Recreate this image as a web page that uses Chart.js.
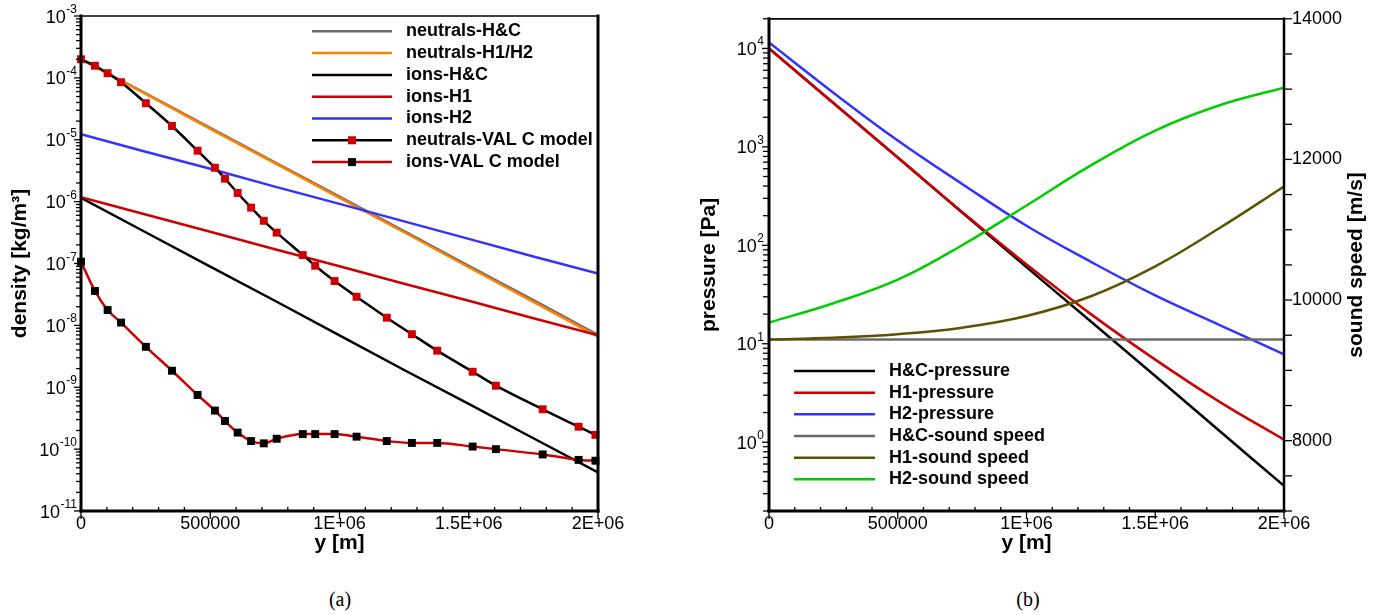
<!DOCTYPE html>
<html>
<head>
<meta charset="utf-8">
<script src="https://cdn.jsdelivr.net/npm/chart.js@4.4.1/dist/chart.umd.min.js"></script>
<style>
  html, body { margin: 0; padding: 0; background: #fff; }
  #page { position: relative; width: 1385px; height: 615px; overflow: hidden; }
  canvas { position: absolute; top: 0; }
  #chartA { left: 0; }
  #chartB { left: 690px; }
  .cap {
    position: absolute; top: 588px;
    font: 20px "Liberation Serif", "DejaVu Serif", serif;
    color: #000; transform: translateX(-50%);
  }
</style>
</head>
<body>
<div id="page">
  <canvas id="chartA" width="660" height="570"></canvas>
  <canvas id="chartB" width="695" height="570"></canvas>
  <div class="cap" style="left:340px">(a)</div>
  <div class="cap" style="left:1028px">(b)</div>
</div>
<script>
// ────────────────────────────────────────────────
// Data
// ────────────────────────────────────────────────

// shared height grid [m]
const heights = [0, 250000, 500000, 750000, 1000000, 1250000, 1500000, 1750000, 2000000];

// (a) density [kg/m^3]
const neutralsHC   = [2.0e-4, 5.6e-5, 1.55e-5, 4.3e-6, 1.2e-6, 3.35e-7, 9.2e-8, 2.55e-8, 7.0e-9];
const neutralsH1H2 = [2.0e-4, 5.5e-5, 1.5e-5, 4.2e-6, 1.15e-6, 3.2e-7, 8.7e-8, 2.4e-8, 6.6e-9];
const ionsHC       = [1.15e-6, 3.2e-7, 8.9e-8, 2.5e-8, 6.9e-9, 1.9e-9, 5.4e-10, 1.5e-10, 4.2e-11];
const ionsH1       = [1.18e-6, 6.2e-7, 3.25e-7, 1.7e-7, 9.0e-8, 4.7e-8, 2.5e-8, 1.3e-8, 6.9e-9];
const ionsH2       = [1.23e-5, 6.4e-6, 3.4e-6, 1.75e-6, 9.2e-7, 4.8e-7, 2.5e-7, 1.3e-7, 6.9e-8];

// VAL C model samples
const valHeights  = [0, 54000, 103000, 155000, 251000, 352000, 451000, 518000, 557000, 606000,
                     658000, 707000, 757000, 858000, 906000, 981000, 1066000, 1183000, 1280000,
                     1378000, 1515000, 1605000, 1786000, 1925000, 1990000];
const valNeutrals = [2.0e-4, 1.57e-4, 1.19e-4, 8.5e-5, 3.9e-5, 1.67e-5, 6.65e-6, 3.53e-6, 2.35e-6, 1.38e-6,
                     8.0e-7, 4.9e-7, 3.15e-7, 1.37e-7, 9.2e-8, 5.2e-8, 2.9e-8, 1.33e-8, 7.2e-9,
                     3.9e-9, 1.78e-9, 1.06e-9, 4.4e-10, 2.3e-10, 1.7e-10];
const valIons     = [1.07e-7, 3.6e-8, 1.77e-8, 1.11e-8, 4.5e-9, 1.85e-9, 7.5e-10, 4.2e-10, 2.85e-10, 1.85e-10,
                     1.35e-10, 1.24e-10, 1.47e-10, 1.75e-10, 1.75e-10, 1.75e-10, 1.59e-10, 1.35e-10, 1.26e-10,
                     1.26e-10, 1.1e-10, 1.0e-10, 8.2e-11, 6.7e-11, 6.5e-11];

// (b) pressure [Pa]
const pressureHC = [1.0e4, 2.79e3, 7.8e2, 2.15e2, 60, 16.8, 4.7, 1.3, 0.36];
const pressureH1 = [1.0e4, 2.79e3, 7.8e2, 2.18e2, 64, 20, 6.9, 2.57, 1.06];
const pressureH2 = [1.15e4, 3.55e3, 1.16e3, 4.2e2, 1.58e2, 68, 31, 15.5, 7.8];

// (b) sound speed [m/s]
const soundHC = [9440, 9440, 9440, 9440, 9440, 9440, 9440, 9440, 9440];
const soundH1 = [9440, 9464, 9514, 9607, 9773, 10054, 10480, 11025, 11615];
const soundH2 = [9680, 9955, 10290, 10780, 11345, 11915, 12410, 12770, 13020];

// tick labels
const xTickValues       = [0, 500000, 1000000, 1500000, 2000000];
const xTickLabels       = ['0', '500000', '1E+06', '1.5E+06', '2E+06'];
const densityExponents  = [-11, -10, -9, -8, -7, -6, -5, -4, -3];
const pressureExponents = [0, 1, 2, 3, 4];
const soundTickValues   = [8000, 10000, 12000, 14000];

// ────────────────────────────────────────────────
// Helpers
// ────────────────────────────────────────────────
const FAMILY = '"Liberation Sans", Arial, Helvetica, sans-serif';
const tickFont  = { family: FAMILY, size: 18 };
const titleFont = { family: FAMILY, size: 21, weight: 'bold' };

function isDecade(v) {
    const l = Math.log10(v);
    return Math.abs(l - Math.round(l)) < 1e-9;
}

function xLabel(v) {
    const i = xTickValues.indexOf(Math.round(v));
    return i >= 0 ? xTickLabels[i] : '';
}

// minor/major positions for a log axis: k * 10^n inside [min, max]
function logTicks(min, max) {
    const out = [];
    for (let n = Math.floor(Math.log10(min)); n <= Math.ceil(Math.log10(max)); n++) {
        for (let k = 1; k <= 9; k++) {
            const v = k * Math.pow(10, n);
            if (v >= min * (1 - 1e-9) && v <= max * (1 + 1e-9)) out.push({ value: v });
        }
    }
    return out;
}

function stepTicks(min, max, step) {
    const out = [];
    for (let v = min; v <= max + step * 1e-6; v += step) out.push({ value: Math.round(v) });
    return out;
}

const pts = (xs, ys) => xs.map((x, i) => ({ x, y: ys[i] }));

function lineDs(label, xs, ys, color, extra) {
    return Object.assign({
        label,
        data: pts(xs, ys),
        borderColor: color,
        backgroundColor: color,
        borderWidth: 2.5,
        pointRadius: 0,
        fill: false,
        tension: 0
    }, extra || {});
}

// frame, tick marks, 10^n labels, custom legend, rotated right title
function decor(cfg) {
    return {
        id: 'decor',
        afterDatasetsDraw(chart) {
            const ctx = chart.ctx;
            const a = chart.chartArea;
            ctx.save();
            ctx.strokeStyle = '#000';
            ctx.lineWidth = 1.3;
            cfg.ticks.forEach(spec => {
                const scale = chart.scales[spec.id];
                scale.ticks.forEach(t => {
                    const p = scale.getPixelForValue(t.value);
                    const major = spec.log ? isDecade(t.value)
                        : Math.abs(t.value / spec.majorEvery - Math.round(t.value / spec.majorEvery)) < 1e-6;
                    const len = major ? spec.majorLen : spec.minorLen;
                    const dir = (major || !spec.minorInward) ? 1 : -1;
                    ctx.beginPath();
                    if (spec.side === 'bottom') {
                        ctx.moveTo(p, a.bottom); ctx.lineTo(p, a.bottom + dir * len);
                    } else if (spec.side === 'left') {
                        ctx.moveTo(a.left, p); ctx.lineTo(a.left - dir * len, p);
                    } else {
                        ctx.moveTo(a.right, p); ctx.lineTo(a.right + dir * len, p);
                    }
                    ctx.stroke();
                });
            });
            const f = cfg.frame;
            const seg = (x1, y1, x2, y2, w) => {
                ctx.lineWidth = w;
                ctx.lineCap = 'square';
                ctx.beginPath(); ctx.moveTo(x1, y1); ctx.lineTo(x2, y2); ctx.stroke();
            };
            seg(a.left, a.top, a.right, a.top, f.top);
            seg(a.right, a.top, a.right, a.bottom, f.right);
            seg(a.left, a.bottom, a.right, a.bottom, f.bottom);
            seg(a.left, a.top, a.left, a.bottom, f.left);
            ctx.restore();
        },
        afterDraw(chart) {
            const ctx = chart.ctx;
            const a = chart.chartArea;
            ctx.save();

            // 10^n labels on the log axis
            const pl = cfg.powLabels;
            const scale = chart.scales[pl.id];
            ctx.fillStyle = '#000';
            ctx.textAlign = 'right';
            ctx.textBaseline = 'alphabetic';
            scale.ticks.forEach(t => {
                if (!isDecade(t.value)) return;
                const e = Math.round(Math.log10(t.value));
                if (!pl.exponents.includes(e)) return;
                const y = scale.getPixelForValue(t.value);
                const xr = a.left - pl.gap;
                const expText = String(e);
                ctx.font = '12px ' + FAMILY;
                const ew = ctx.measureText(expText).width;
                ctx.fillText(expText, xr, y - 3);
                ctx.font = '18px ' + FAMILY;
                ctx.fillText('10', xr - ew - 0.5, y + 6.5);
            });

            // legend
            const lg = cfg.legend;
            chart.data.datasets.forEach((ds, i) => {
                const y = lg.y0 + i * lg.dy;
                ctx.strokeStyle = ds.borderColor;
                ctx.lineWidth = ds.borderWidth;
                ctx.lineCap = 'butt';
                ctx.beginPath(); ctx.moveTo(lg.x1, y); ctx.lineTo(lg.x2, y); ctx.stroke();
                if (ds.pointRadius > 0) {
                    const s = lg.marker;
                    ctx.fillStyle = ds.pointBackgroundColor;
                    ctx.fillRect((lg.x1 + lg.x2) / 2 - s / 2, y - s / 2, s, s);
                }
                ctx.fillStyle = '#000';
                ctx.font = 'bold 18px ' + FAMILY;
                ctx.textAlign = 'left';
                ctx.textBaseline = 'middle';
                ctx.fillText(ds.label, lg.textX, y);
            });

            if (cfg.rightTitle) {
                ctx.translate(cfg.rightTitle.x, (a.top + a.bottom) / 2);
                ctx.rotate(-Math.PI / 2);
                ctx.font = 'bold 21px ' + FAMILY;
                ctx.textAlign = 'center';
                ctx.textBaseline = 'middle';
                ctx.fillStyle = '#000';
                ctx.fillText(cfg.rightTitle.text, 0, 0);
            }
            ctx.restore();
        }
    };
}

const plainGrid = { display: false, drawTicks: false };
const noBorder = { display: false };

function xAxis() {
    return {
        type: 'linear',
        min: 0,
        max: 2000000,
        grid: plainGrid,
        border: noBorder,
        afterBuildTicks: s => { s.ticks = stepTicks(0, 2000000, 100000); },
        ticks: { autoSkip: false, maxRotation: 0, padding: 2, font: tickFont, color: '#000', callback: v => xLabel(v) },
        title: { display: true, text: 'y [m]', font: titleFont, color: '#000', padding: { top: 0, bottom: 14 } },
        afterFit: s => { s.height = 59; }
    };
}

Chart.defaults.font.family = FAMILY;
Chart.defaults.color = '#000';

const COLORS = {
    gray:   '#6b6b6b',
    orange: '#ff8000',
    black:  '#000000',
    red:    '#cc0000',
    blue:   '#3333ff',
    olive:  '#5c5200',
    green:  '#00cc00'
};

// ────────────────────────────────────────────────
// (a) density
// ────────────────────────────────────────────────
const densitySets = [
    lineDs('neutrals-H&C', heights, neutralsHC, COLORS.gray),
    lineDs('neutrals-H1/H2', heights, neutralsH1H2, COLORS.orange),
    lineDs('ions-H&C', heights, ionsHC, COLORS.black),
    lineDs('ions-H1', heights, ionsH1, COLORS.red),
    lineDs('ions-H2', heights, ionsH2, COLORS.blue),
    lineDs('neutrals-VAL C model', valHeights, valNeutrals, COLORS.black, {
        pointRadius: 5.6, pointStyle: 'rect', pointBorderWidth: 0,
        pointBackgroundColor: COLORS.red, cubicInterpolationMode: 'monotone', clip: false
    }),
    lineDs('ions-VAL C model', valHeights, valIons, COLORS.red, {
        pointRadius: 5.6, pointStyle: 'rect', pointBorderWidth: 0,
        pointBackgroundColor: COLORS.black, cubicInterpolationMode: 'monotone', clip: false
    })
];
densitySets.forEach((d, i) => { d.order = densitySets.length - i; });

new Chart(document.getElementById('chartA'), {
    type: 'line',
    data: { datasets: densitySets },
    options: {
        responsive: false,
        animation: false,
        devicePixelRatio: 1,
        events: [],
        layout: { padding: { top: 16, right: 62, bottom: 0, left: 0 } },
        plugins: { legend: { display: false }, tooltip: { enabled: false } },
        scales: {
            x: xAxis(),
            y: {
                type: 'logarithmic',
                min: 1e-11,
                max: 1e-3,
                grid: plainGrid,
                border: noBorder,
                afterBuildTicks: s => { s.ticks = logTicks(1e-11, 1e-3); },
                ticks: { display: false },
                title: { display: true, text: 'density [kg/m³]', font: titleFont, color: '#000',
                         padding: { top: 8, bottom: 0 } },
                afterFit: s => { s.width = 81; }
            }
        }
    },
    plugins: [decor({
        ticks: [
            { id: 'x', side: 'bottom', majorLen: 8, minorLen: 4, minorInward: true, majorEvery: 500000 },
            { id: 'y', side: 'left', majorLen: 7, minorLen: 5, log: true }
        ],
        powLabels: { id: 'y', exponents: densityExponents, gap: 4 },
        frame: { top: 1.5, right: 3, bottom: 3, left: 3 },
        legend: { x1: 312, x2: 392, textX: 406, y0: 31.3, dy: 21.8, marker: 8 }
    })]
});

// ────────────────────────────────────────────────
// (b) pressure & sound speed
// ────────────────────────────────────────────────
const smooth = { tension: 0.4 };
const pressureSets = [
    lineDs('H&C-pressure', heights, pressureHC, COLORS.black, Object.assign({ yAxisID: 'y' }, smooth)),
    lineDs('H1-pressure', heights, pressureH1, COLORS.red, Object.assign({ yAxisID: 'y' }, smooth)),
    lineDs('H2-pressure', heights, pressureH2, COLORS.blue, Object.assign({ yAxisID: 'y' }, smooth)),
    lineDs('H&C-sound speed', heights, soundHC, COLORS.gray, Object.assign({ yAxisID: 'y2' }, smooth)),
    lineDs('H1-sound speed', heights, soundH1, COLORS.olive, Object.assign({ yAxisID: 'y2' }, smooth)),
    lineDs('H2-sound speed', heights, soundH2, COLORS.green, Object.assign({ yAxisID: 'y2' }, smooth))
];
pressureSets.forEach((d, i) => { d.order = pressureSets.length - i; });

new Chart(document.getElementById('chartB'), {
    type: 'line',
    data: { datasets: pressureSets },
    options: {
        responsive: false,
        animation: false,
        devicePixelRatio: 1,
        events: [],
        layout: { padding: { top: 16, right: 0, bottom: 0, left: 0 } },
        plugins: { legend: { display: false }, tooltip: { enabled: false } },
        scales: {
            x: xAxis(),
            y: {
                type: 'logarithmic',
                position: 'left',
                min: 0.2,
                max: 20000,
                grid: plainGrid,
                border: noBorder,
                afterBuildTicks: s => { s.ticks = logTicks(0.2, 20000); },
                ticks: { display: false },
                title: { display: true, text: 'pressure [Pa]', font: titleFont, color: '#000',
                         padding: { top: 7, bottom: 0 } },
                afterFit: s => { s.width = 79; }
            },
            y2: {
                type: 'linear',
                position: 'right',
                min: 7000,
                max: 14000,
                grid: plainGrid,
                border: noBorder,
                afterBuildTicks: s => { s.ticks = stepTicks(7000, 14000, 500); },
                ticks: { autoSkip: false, padding: 8, font: tickFont, color: '#000',
                         callback: v => soundTickValues.includes(Math.round(v)) ? String(Math.round(v)) : '' },
                title: { display: false },
                afterFit: s => { s.width = 101; }
            }
        }
    },
    plugins: [decor({
        ticks: [
            { id: 'x', side: 'bottom', majorLen: 8, minorLen: 4, minorInward: true, majorEvery: 500000 },
            { id: 'y', side: 'left', majorLen: 7, minorLen: 6, log: true },
            { id: 'y2', side: 'right', majorLen: 8, minorLen: 8, majorEvery: 2000 }
        ],
        powLabels: { id: 'y', exponents: pressureExponents, gap: 5 },
        frame: { top: 1.7, right: 2.5, bottom: 3, left: 3 },
        legend: { x1: 104, x2: 185, textX: 199, y0: 371, dy: 21.66, marker: 8 },
        rightTitle: { text: 'sound speed [m/s]', x: 666 }
    })]
});
</script>
</body>
</html>
